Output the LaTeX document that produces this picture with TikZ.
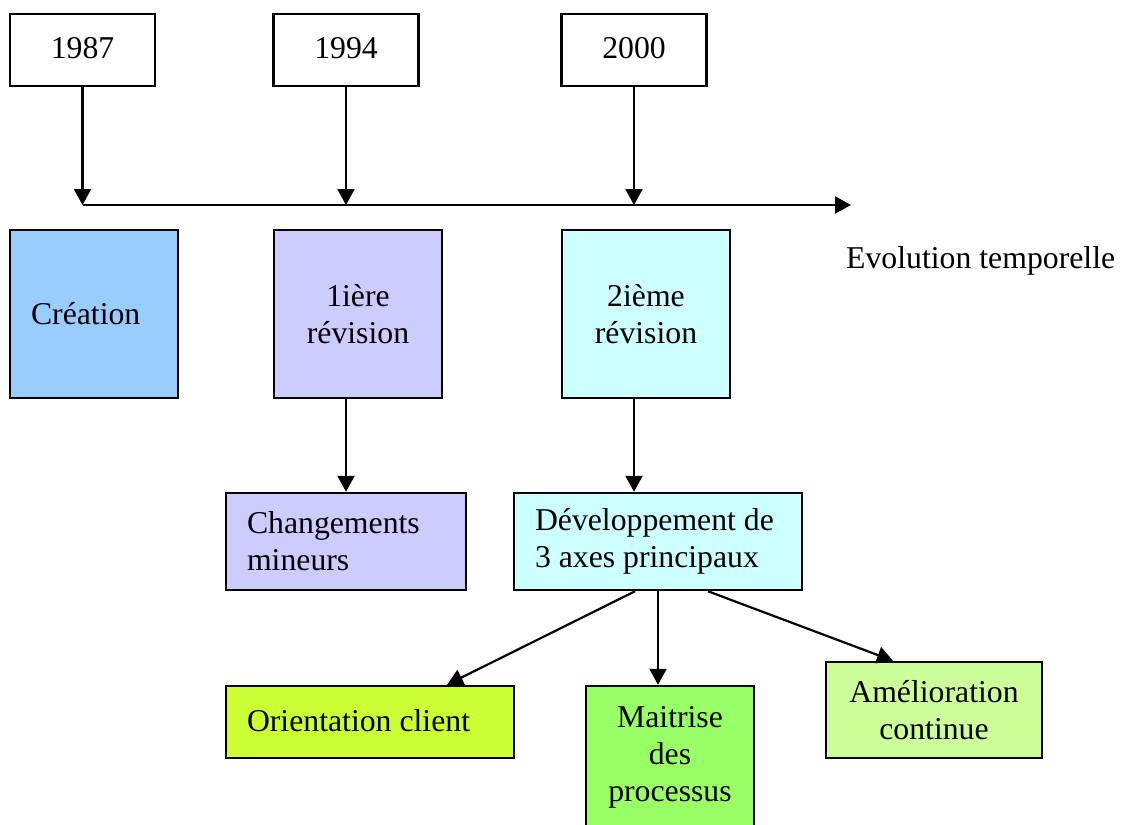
\documentclass[tikz,border=0pt]{standalone}
\usepackage{fontspec}
\setmainfont{Liberation Serif}
\usetikzlibrary{arrows.meta}
\definecolor{cBlue}{HTML}{99CCFF}
\definecolor{cLav}{HTML}{CCCCFF}
\definecolor{cCyan}{HTML}{CCFFFF}
\definecolor{cLime}{HTML}{CCFF33}
\definecolor{cGreen}{HTML}{99FF66}
\definecolor{cPale}{HTML}{CCFF99}
\tikzset{
  box/.style={draw=black, line width=2.5pt, rectangle, inner ysep=0pt,
    font=\fontsize{31.75}{37}\selectfont},
  lbox/.style n args={2}{box, minimum width=#1, minimum height=#2,
    inner xsep=21pt, text width=#1-42pt, align=flush left},
  cbox/.style n args={2}{box, minimum width=#1, minimum height=#2,
    inner xsep=8pt, text width=#1-16pt, align=flush center},
  conn/.style={draw=black, line width=2.2pt, -{Triangle[width=17pt,length=16pt]}},
  lbl/.style={font=\fontsize{31.75}{37}\selectfont, inner sep=0pt}
}
\begin{document}
\begin{tikzpicture}[x=1pt,y=-1pt]
\useasboundingbox (0,0) rectangle (1125,825);
% year boxes
\node[cbox={145pt}{72pt}] (y1) at (82.5,50) {\raisebox{4pt}{1987}};
\node[cbox={145pt}{72pt}] (y2) at (346,50) {\raisebox{4pt}{1994}};
\node[cbox={145pt}{72pt}] (y3) at (634,50) {\raisebox{4pt}{2000}};
% timeline
\coordinate (t0) at (82.5,205);
\coordinate (tend) at (851,205);
\coordinate (t1) at (82.5,205);
\coordinate (t2) at (346,205);
\coordinate (t3) at (634,205);
\draw[conn] (t0) -- (tend);
\draw[conn] (y1.south) -- (t1);
\draw[conn] (y2.south) -- (t2);
\draw[conn] (y3.south) -- (t3);
\node[lbl, anchor=west] (evo) at (846,261) {Evolution temporelle};
% stage boxes
\node[lbox={168pt}{168pt}, fill=cBlue] (crea) at (94,314) {Création};
\node[cbox={168pt}{168pt}, fill=cLav] (rev1) at (358,314) {1ière\\révision};
\node[cbox={168pt}{168pt}, fill=cCyan] (rev2) at (646,314) {2ième\\révision};
% second level
\node[lbox={240pt}{97pt}, fill=cLav] (chg) at (346,541.5) {Changements\\mineurs};
\node[lbox={288pt}{97pt}, fill=cCyan] (dev) at (658,541.5) {Développement de\\3 axes principaux};
\draw[conn] (rev1.south -| 346,0) -- (chg.north);
\draw[conn] (rev2.south -| 634,0) -- (dev.north -| 634,0);
% third level
\node[lbox={288pt}{72pt}, fill=cLime] (ori) at (370,722) {\raisebox{4pt}{Orientation client}};
\node[cbox={168pt}{142pt}, fill=cGreen] (mai) at (670,757) {Maitrise\\des\\processus};
\node[cbox={216pt}{96pt}, fill=cPale] (ame) at (934,710) {Amélioration\\continue};
\draw[conn] (dev.south -| 635,0) -- (ori.north -| 447,0);
\draw[conn] (dev.south) -- (mai.north -| dev.south);
\draw[conn] (dev.south -| 708,0) -- (ame.north -| 893,0);
\end{tikzpicture}
\end{document}
